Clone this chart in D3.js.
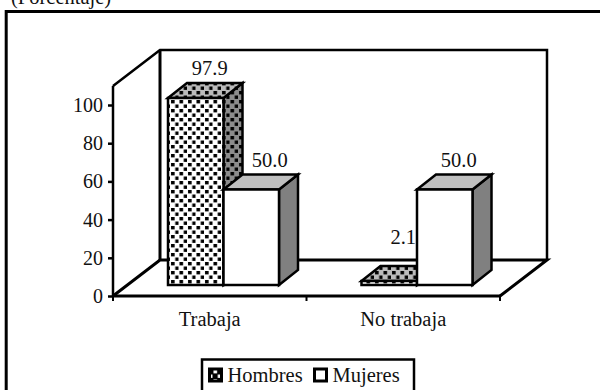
<!DOCTYPE html>
<html>
<head>
<meta charset="utf-8">
<script src="https://cdnjs.cloudflare.com/ajax/libs/d3/7.8.5/d3.min.js"></script>
<style>
html, body { margin: 0; padding: 0; background: #fff; overflow: hidden; }
svg { display: block; }
text { font-family: "Liberation Serif", serif; fill: #111; }
</style>
</head>
<body>
<div class="chart"></div>
<script>
var categories = ['Trabaja', 'No trabaja'];
var seriesNames = ['Hombres', 'Mujeres'];
var hombres = [97.9, 2.1];
var mujeres = [50.0, 50.0];
var valueTicks = [0, 20, 40, 60, 80, 100];

var svg = d3.select('.chart').append('svg')
            .attr('width', 600)
            .attr('height', 390);

// dotted fills for the Hombres bars
var defs = svg.append('defs');
function addDots(id, bg, dot) {
  var p = defs.append('pattern')
      .attr('id', id)
      .attr('patternUnits', 'userSpaceOnUse')
      .attr('width', 8.5).attr('height', 9);
  p.append('rect').attr('width', 8.5).attr('height', 9).attr('fill', bg);
  p.append('rect').attr('x', 1).attr('y', 1).attr('width', 3.6).attr('height', 3.4).attr('fill', dot);
  p.append('rect').attr('x', 5.25).attr('y', 5.5).attr('width', 3.6).attr('height', 3.4).attr('fill', dot);
}
addDots('dotsFront', '#fff', '#000');
addDots('dotsTop', '#bbb', '#000');
addDots('dotsSide', '#8c8c8c', '#000');
addDots('dotsLegend', '#000', '#fff');

// outer frame runs off the right and bottom of the picture
svg.append('rect')
    .attr('x', 6.2).attr('y', 11.5)
    .attr('width', 640).attr('height', 420)
    .attr('fill', '#fff').attr('stroke', '#000').attr('stroke-width', 3);

svg.append('text').attr('x', 11).attr('y', 3.5)
    .style('font-size', '20.5px').text('(Porcentaje)');

var x = d3.scaleBand().domain(categories).range([113, 500]);
var y = d3.scaleLinear().domain([0, 100]).range([296, 105]);

var depthX = 47, depthY = -36;    // floor/wall offset
var barDx = 19, barDy = -15;      // bar depth
var inX = 55, barW = 55.5, lift = 11;

var wallTop = y(110);
var line = d3.line();

// back wall and floor
svg.append('path')
    .attr('d', line([[x.range()[0], y(0)], [x.range()[0] + depthX, y(0) + depthY], [x.range()[1] + depthX, y(0) + depthY], [x.range()[1], y(0)]]))
    .attr('fill', 'none').attr('stroke', '#000').attr('stroke-width', 3);
svg.append('path')
    .attr('d', line([[x.range()[0], wallTop], [x.range()[0] + depthX, wallTop + depthY], [x.range()[1] + depthX, wallTop + depthY], [x.range()[1] + depthX, y(0) + depthY]]))
    .attr('fill', 'none').attr('stroke', '#000').attr('stroke-width', 2.5);
svg.append('line')
    .attr('x1', x.range()[0] + depthX).attr('x2', x.range()[0] + depthX)
    .attr('y1', wallTop + depthY).attr('y2', y(0) + depthY)
    .attr('stroke', '#000').attr('stroke-width', 3);

// axes
var yAxis = d3.axisLeft(y).tickValues(valueTicks).tickSize(5).tickPadding(5);
var gy = svg.append('g').attr('transform', 'translate(113,0)').call(yAxis);
gy.select('.domain').attr('d', line([[0, y(0)], [0, wallTop]])).attr('stroke-width', 2.5);
gy.selectAll('line').attr('stroke-width', 2.5);
gy.selectAll('text').style('font-size', '20px');

var xAxis = d3.axisBottom(x).tickSize(0).tickPadding(15);
var gx = svg.append('g').attr('transform', 'translate(0,' + y(0) + ')').call(xAxis);
gx.select('.domain').attr('d', line([[113, 0], [500, 0]])).attr('stroke-width', 3);
gx.selectAll('text').style('font-size', '20.5px');
gx.selectAll('.edge').data(x.range().concat(x('No trabaja'))).enter().append('line')
    .attr('x1', function(d){ return d; }).attr('x2', function(d){ return d; })
    .attr('y1', 0).attr('y2', 5)
    .attr('stroke', '#000').attr('stroke-width', 2);

function drawBar(cat, value, offset, front, top, side) {
  var x0 = x(cat) + inX + offset * barW;
  var x1 = x0 + barW;
  var yb = y(0) - lift;
  var yt = yb - (y(0) - y(value));
  var g = svg.append('g').attr('stroke', '#000').attr('stroke-width', 2.5).attr('stroke-linejoin', 'miter');
  g.append('path').attr('fill', side)
      .attr('d', line([[x1, yb], [x1 + barDx, yb + barDy], [x1 + barDx, yt + barDy], [x1, yt]]) + 'Z');
  g.append('path').attr('fill', top)
      .attr('d', line([[x0, yt], [x0 + barDx, yt + barDy], [x1 + barDx, yt + barDy], [x1, yt]]) + 'Z');
  g.append('rect').attr('x', x0).attr('y', yt)
      .attr('width', barW).attr('height', yb - yt).attr('fill', front);
  return { x: (x0 + x1) / 2, y: yt + barDy };
}

var labels = [];
categories.forEach(function(c, i) {
  var a = drawBar(c, hombres[i], 0, 'url(#dotsFront)', 'url(#dotsTop)', 'url(#dotsSide)');
  labels.push({ pos: a, v: hombres[i], dx: 14, dy: i ? -22 : -8 });
  var b = drawBar(c, mujeres[i], 1, '#fff', '#bfbfbf', '#808080');
  labels.push({ pos: b, v: mujeres[i], dx: i ? 14 : 18.5, dy: -8 });
});

svg.selectAll('.val').data(labels).enter().append('text')
    .attr('class', 'val')
    .attr('x', function(d){ return d.pos.x + d.dx; })
    .attr('y', function(d){ return d.pos.y + d.dy; })
    .attr('text-anchor', 'middle')
    .style('font-size', '20.5px')
    .text(function(d){ return d.v.toFixed(1); });

// legend, its box also runs off the bottom
var lg = svg.append('g');
lg.append('rect').attr('x', 202).attr('y', 359.5).attr('width', 212).attr('height', 50)
    .attr('fill', '#fff').attr('stroke', '#000').attr('stroke-width', 2.5);
var legendX = [209.5, 314.5];
seriesNames.forEach(function(n, i) {
  lg.append('rect').attr('x', legendX[i]).attr('y', 369).attr('width', 12).attr('height', 12)
      .attr('fill', i ? '#fff' : 'url(#dotsLegend)').attr('stroke', '#000').attr('stroke-width', 3);
  lg.append('text').attr('x', legendX[i] + 18).attr('y', 382).style('font-size', '20.5px').text(n);
});
</script>
</body>
</html>
